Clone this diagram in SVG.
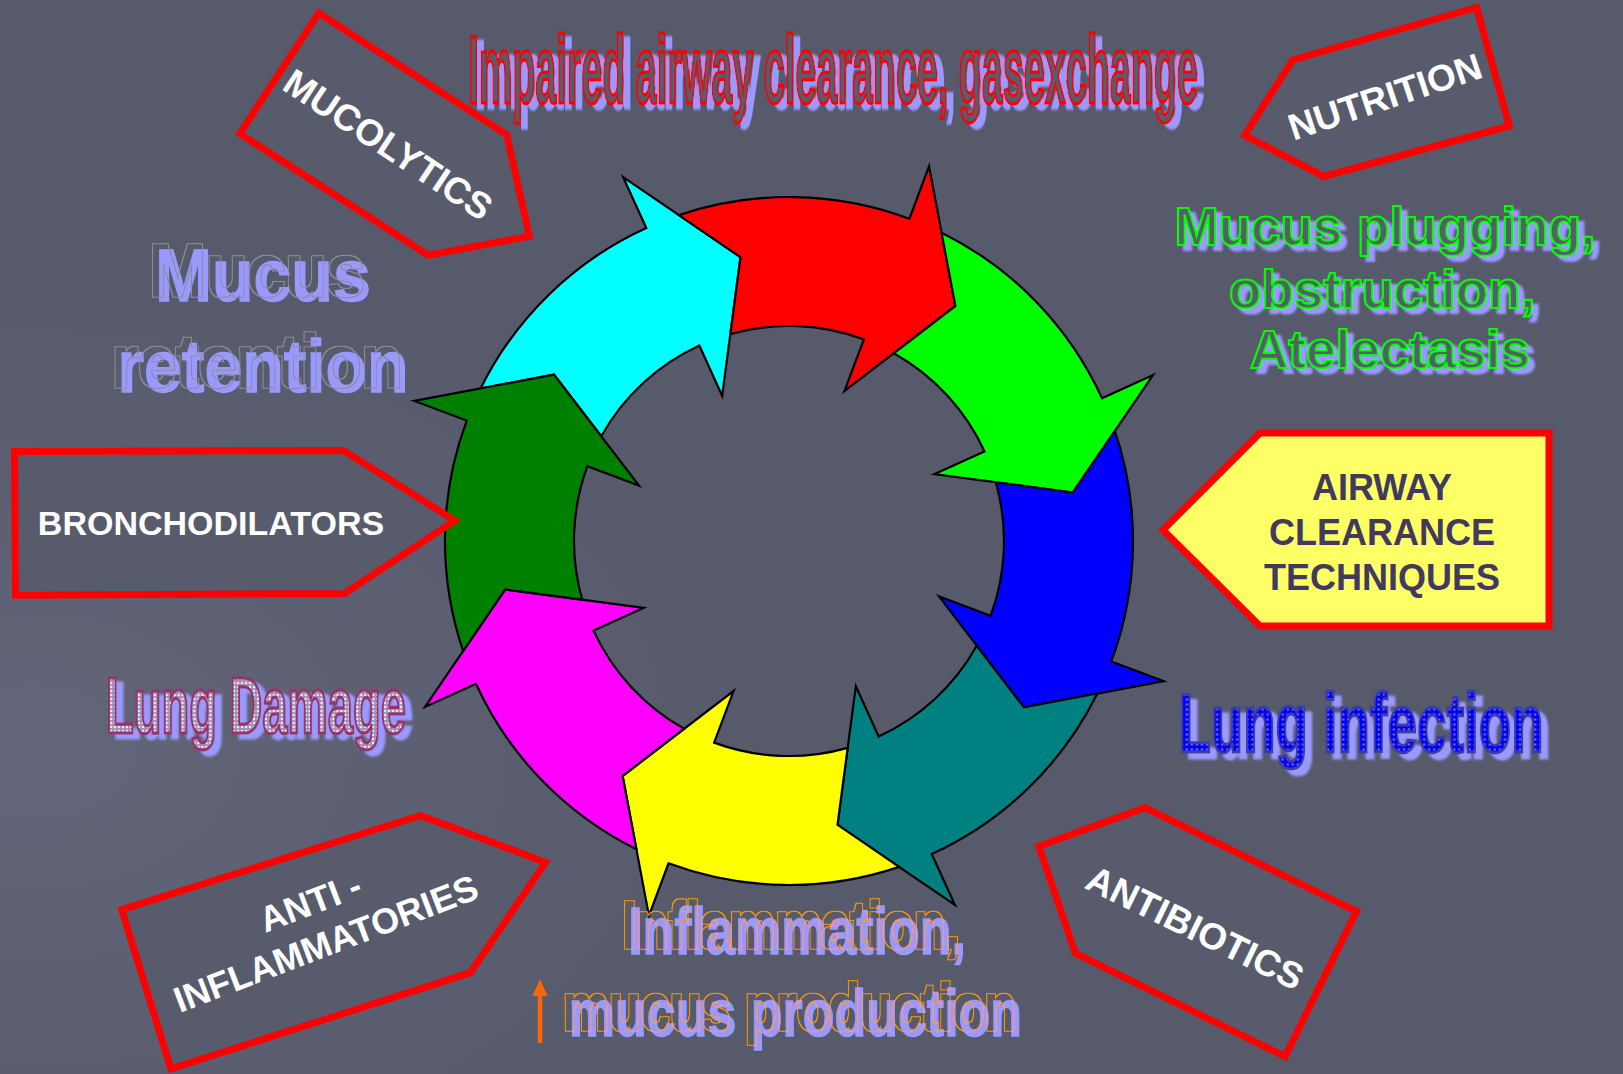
<svg xmlns="http://www.w3.org/2000/svg" width="1623" height="1074" viewBox="0 0 1623 1074">
<defs>
<style>
.bg{fill:#575A6B}
.box{fill:#585B6C;stroke:#FF0000;stroke-width:7;stroke-linejoin:miter}
.btxt{font-family:"Liberation Sans",Arial,sans-serif;font-weight:bold;fill:#FFFFFF;text-anchor:middle;dominant-baseline:central}
.atxt{font-family:"Liberation Sans",Arial,sans-serif;font-weight:bold;fill:#41395E;text-anchor:middle;font-size:36px}
.big{font-family:"Liberation Sans",Arial,sans-serif;font-weight:bold;text-anchor:middle}
.lav{fill:#9999FF;stroke:#9999FF;stroke-width:1.4}
.arr{stroke:#000000;stroke-width:2.2;stroke-linejoin:miter}
</style>
<filter id="dsImp" x="-5%" y="-30%" width="115%" height="170%">
<feOffset in="SourceAlpha" dx="17.8" dy="5" result="o"/>
<feGaussianBlur in="o" stdDeviation="2 0.8" result="b"/>
<feFlood flood-color="#9999FF" result="c"/>
<feComposite in="c" in2="b" operator="in" result="s"/>
<feMerge><feMergeNode in="s"/><feMergeNode in="SourceGraphic"/></feMerge>
</filter>
<filter id="dsDam" x="-5%" y="-30%" width="115%" height="170%">
<feOffset in="SourceAlpha" dx="12.3" dy="5" result="o"/>
<feGaussianBlur in="o" stdDeviation="1.5 0.8" result="b"/>
<feFlood flood-color="#9999FF" result="c"/>
<feComposite in="c" in2="b" operator="in" result="s"/>
<feMerge><feMergeNode in="s"/><feMergeNode in="SourceGraphic"/></feMerge>
</filter>
<filter id="dsInf" x="-5%" y="-30%" width="115%" height="170%">
<feOffset in="SourceAlpha" dx="11.1" dy="6" result="o"/>
<feGaussianBlur in="o" stdDeviation="1.4 0.8" result="b"/>
<feFlood flood-color="#9999FF" result="c"/>
<feComposite in="c" in2="b" operator="in" result="s"/>
<feMerge><feMergeNode in="s"/><feMergeNode in="SourceGraphic"/></feMerge>
</filter>
<filter id="dsPlug" x="-5%" y="-30%" width="115%" height="170%">
<feOffset in="SourceAlpha" dx="6" dy="5" result="o"/>
<feGaussianBlur in="o" stdDeviation="0.8" result="b"/>
<feFlood flood-color="#9999FF" result="c"/>
<feComposite in="c" in2="b" operator="in" result="s"/>
<feMerge><feMergeNode in="s"/><feMergeNode in="SourceGraphic"/></feMerge>
</filter>
<filter id="olMucus" x="-10%" y="-30%" width="120%" height="160%">
<feOffset in="SourceAlpha" dx="-6.5" dy="-5" result="o"/>
<feMorphology in="o" operator="dilate" radius="1.3 1.2" result="d"/>
<feComposite in="d" in2="o" operator="out" result="ring"/>
<feFlood flood-color="#8E8E96" result="g"/>
<feComposite in="g" in2="ring" operator="in" result="rc"/>
<feGaussianBlur in="SourceGraphic" stdDeviation="0.7" result="sg"/>
<feMerge><feMergeNode in="sg"/><feMergeNode in="rc"/></feMerge>
</filter>
<filter id="olInfl" x="-10%" y="-30%" width="120%" height="160%">
<feOffset in="SourceAlpha" dx="-7.8" dy="-6" result="o"/>
<feMorphology in="o" operator="dilate" radius="1.6 1.2" result="d"/>
<feComposite in="d" in2="o" operator="out" result="ring"/>
<feFlood flood-color="#FF9900" result="g"/>
<feComposite in="g" in2="ring" operator="in" result="rc"/>
<feGaussianBlur in="SourceGraphic" stdDeviation="0.7" result="sg"/>
<feMerge><feMergeNode in="sg"/><feMergeNode in="rc"/></feMerge>
</filter>
<radialGradient id="glow" cx="0.02" cy="0.7" r="0.45">
<stop offset="0" stop-color="#63667A"/>
<stop offset="1" stop-color="#575A6B"/>
</radialGradient>
<pattern id="dotsW" width="7" height="4" patternUnits="userSpaceOnUse">
<rect width="7" height="4" fill="#9D90B8"/>
<ellipse cx="3.5" cy="2" rx="2.2" ry="1.3" fill="#ECE8F6"/>
</pattern>
<pattern id="dotsB" width="8" height="5" patternUnits="userSpaceOnUse">
<rect width="8" height="5" fill="#0000FF"/>
<ellipse cx="4" cy="2.5" rx="2" ry="1.2" fill="#6A6AB8"/>
</pattern>
<path id="arrow" d="M -278.2,-202.3 A 344 344 0 0 1 -87.9,-332.6 L -102.2,-386.7 L 0,-288 L -41.4,-154.5 L -55.4,-207.8 A 215 215 0 0 0 -167.4,-134.9 L -203.6,-203.6 Z"/>
</defs>

<rect class="bg" x="0" y="0" width="1623" height="1074"/>
<rect x="0" y="0" width="1623" height="1074" fill="url(#glow)"/>

<g id="connectors">
<use href="#arrow" class="arr" fill="#00FFFF" transform="translate(789,541) rotate(-9.7)"/>
<use href="#arrow" class="arr" fill="#FF0000" transform="translate(789,541) rotate(35.3)"/>
<use href="#arrow" class="arr" fill="#00FF00" transform="translate(789,541) rotate(80.3)"/>
<use href="#arrow" class="arr" fill="#0000FF" transform="translate(789,541) rotate(125.3)"/>
<use href="#arrow" class="arr" fill="#008080" transform="translate(789,541) rotate(170.3)"/>
<use href="#arrow" class="arr" fill="#FFFF00" transform="translate(789,541) rotate(215.3)"/>
<use href="#arrow" class="arr" fill="#FF00FF" transform="translate(789,541) rotate(260.3)"/>
<use href="#arrow" class="arr" fill="#008000" transform="translate(789,541) rotate(305.3)"/>
</g>

<g id="mucolytics">
<polygon class="box" points="318.6,13 506.6,134.6 529.4,236.3 428.4,255.2 239.8,133.6"/>
<text class="btxt" font-size="37" transform="translate(388,145) rotate(33.5)">MUCOLYTICS</text>
</g>

<g id="nutrition">
<polygon class="box" points="1476.6,7.5 1509.3,126 1323.8,176.4 1244.6,135.3 1292.7,59.9"/>
<text class="btxt" font-size="37" transform="translate(1385,97) rotate(-18.5)">NUTRITION</text>
</g>

<g id="bronchodilators">
<polygon class="box" points="14.5,451.4 343.4,450.4 454.8,520.6 344.5,593.5 15.5,595.2"/>
<text class="btxt" font-size="34" x="211" y="523">BRONCHODILATORS</text>
</g>

<g id="airway-clearance">
<polygon class="box" style="fill:#FFFF66" points="1163,530 1260,433 1549,433 1549,626 1260,626"/>
<text class="atxt" x="1382" y="500">AIRWAY</text>
<text class="atxt" x="1382" y="545">CLEARANCE</text>
<text class="atxt" x="1382" y="590">TECHNIQUES</text>
</g>

<g id="anti-inflammatories">
<polygon class="box" points="420.6,815.5 545.5,862.4 470.4,972.7 170.9,1068.9 121.7,909.6"/>
<g transform="translate(318,923) rotate(-21)">
<text class="btxt" font-size="36" x="0" y="-22">ANTI -</text>
<text class="btxt" font-size="36" x="0" y="22">INFLAMMATORIES</text>
</g>
</g>

<g id="antibiotics">
<polygon class="box" points="1145.1,807.6 1356.5,911.4 1285,1056.6 1075.2,953.1 1038.9,846.3"/>
<text class="btxt" font-size="37" transform="translate(1195,928) rotate(26)">ANTIBIOTICS</text>
</g>

<g id="impaired-airway">
<g transform="translate(833,103) scale(0.393,1)">
<text class="big" font-size="96" x="0" y="0" fill="#585B6C" stroke="#FF0000" stroke-width="2.6" vector-effect="non-scaling-stroke" filter="url(#dsImp)">Impaired airway clearance, gasexchange</text>
</g>
</g>

<g id="mucus-retention">
<g transform="translate(263,301) scale(0.92,1)">
<text class="big lav" font-size="74" x="0" y="0" filter="url(#olMucus)">Mucus</text>
<text class="big lav" font-size="74" x="0" y="91" filter="url(#olMucus)">retention</text>
</g>
</g>

<g id="mucus-plugging">
<g transform="translate(1385,245)">
<text class="big" font-size="53" x="0" y="0" fill="#585B6C" stroke="#00FF00" stroke-width="2.2" filter="url(#dsPlug)">Mucus plugging,</text>
<text class="big" font-size="53" x="-3" y="63" fill="#585B6C" stroke="#00FF00" stroke-width="2.2" filter="url(#dsPlug)">obstruction,</text>
<text class="big" font-size="53" x="5" y="123" fill="#585B6C" stroke="#00FF00" stroke-width="2.2" filter="url(#dsPlug)">Atelectasis</text>
</g>
</g>

<g id="lung-damage">
<g transform="translate(256,733) scale(0.567,1)">
<text class="big" font-size="80" x="0" y="0" fill="url(#dotsW)" stroke="#993366" stroke-width="2.6" vector-effect="non-scaling-stroke" filter="url(#dsDam)">Lung Damage</text>
</g>
</g>

<g id="lung-infection">
<g transform="translate(1361,752) scale(0.631,1)">
<text class="big" font-size="84" x="0" y="0" fill="url(#dotsB)" stroke="#3C3CA8" stroke-width="2.4" vector-effect="non-scaling-stroke" filter="url(#dsInf)">Lung infection</text>
</g>
</g>

<g id="inflammation">
<g transform="translate(797,954) scale(0.77,1)">
<text class="big lav" font-size="67.5" x="0" y="0" filter="url(#olInfl)">Inflammation,</text>
<text class="big lav" font-size="67.5" x="-2" y="82" filter="url(#olInfl)">mucus production</text>
</g>
<path d="M540,1043 L540,993" stroke="#FF6600" stroke-width="4.5" fill="none"/>
<polygon points="540,979 547.5,996 532.5,996" fill="#FF6600"/>
</g>
</svg>
